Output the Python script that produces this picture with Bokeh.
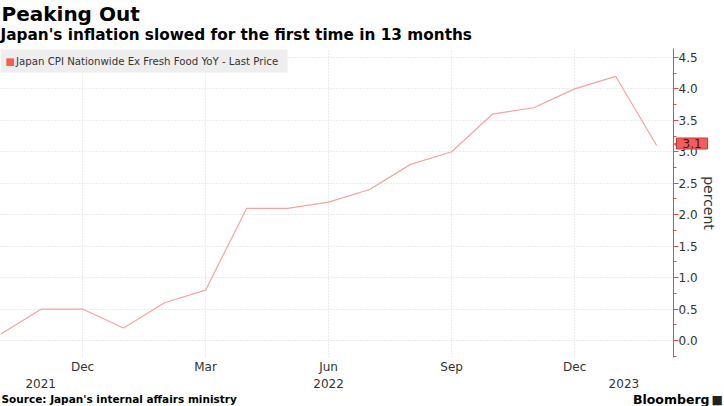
from bokeh.plotting import figure
from bokeh.models import (Range1d, FixedTicker, NumeralTickFormatter, Label,
                          BoxAnnotation)
from bokeh.embed import file_html
from bokeh.resources import INLINE

# ---------------- data ----------------
months = ["Oct 2021", "Nov 2021", "Dec 2021", "Jan 2022", "Feb 2022", "Mar 2022",
          "Apr 2022", "May 2022", "Jun 2022", "Jul 2022", "Aug 2022", "Sep 2022",
          "Oct 2022", "Nov 2022", "Dec 2022", "Jan 2023", "Feb 2023"]
cpi = [0.1, 0.5, 0.5, 0.2, 0.6, 0.8, 2.1, 2.1, 2.2, 2.4, 2.8, 3.0,
       3.6, 3.7, 4.0, 4.2, 3.1]
month_idx = list(range(len(months)))
quarter_names = ["Dec", "Mar", "Jun", "Sep"]
quarter_ticks = [i for i, m in enumerate(months) if m.split()[0] in quarter_names]
quarter_labels = [months[i].split()[0] for i in quarter_ticks]
year_labels = ["2021", "2022", "2023"]
year_pos = [0.98, 8.0, 15.2]
y_ticks = [0.0, 0.5, 1.0, 1.5, 2.0, 2.5, 3.0, 3.5, 4.0, 4.5]
y_minor = [-0.25, 0.25, 0.75, 1.25, 1.75, 2.25, 2.75, 3.25, 3.75, 4.25]

title = "Peaking Out"
subtitle = "Japan's inflation slowed for the first time in 13 months"
series_name = "Japan CPI Nationwide Ex Fresh Food YoY - Last Price"
source = "Source: Japan's internal affairs ministry"
brand = "Bloomberg"

# ---------------- layout ----------------
W, H = 724, 406
HIDDEN = 1500                     # off-screen side panel that holds outside texts
FRAME_L, FRAME_R, FRAME_T, FRAME_B = 0, 673, 48, 357
X0, X1 = 0.0, 16.41
Y0, Y1 = -0.27, 4.642

RED = "#e5474b"
LINE = "#f4a3a3"
TAG = "#f45d5d"
TXT = "#333333"
FONT = "DejaVu Sans"


def dx(px):
    return X0 + (px - FRAME_L) * (X1 - X0) / (FRAME_R - FRAME_L)


def dy(py):
    return Y1 - (py - FRAME_T) * (Y1 - Y0) / (FRAME_B - FRAME_T)


p = figure(width=W + HIDDEN, height=H, x_range=Range1d(X0, X1), y_range=Range1d(Y0, Y1),
           output_backend="svg", toolbar_location=None,
           x_axis_location="below", y_axis_location="right",
           min_border_left=HIDDEN + FRAME_L, min_border_right=W - FRAME_R,
           min_border_top=FRAME_T, min_border_bottom=H - FRAME_B,
           margin=(0, 0, 0, -HIDDEN))
p.outline_line_color = None
p.background_fill_color = "white"
p.border_fill_color = "white"

# x axis (months)
xa = p.xaxis[0]
xa.ticker = FixedTicker(ticks=quarter_ticks)
xa.major_label_overrides = {t: l for t, l in zip(quarter_ticks, quarter_labels)}
xa.axis_line_color = None
xa.major_tick_line_color = None
xa.minor_tick_line_color = None
xa.major_tick_out = 0
xa.major_tick_in = 0
xa.minor_tick_out = 0
xa.minor_tick_in = 0
xa.major_label_standoff = 2
xa.major_label_text_font = FONT
xa.major_label_text_font_size = "12px"
xa.major_label_text_color = TXT

# y axis
ya = p.yaxis[0]
ya.ticker = FixedTicker(ticks=y_ticks, minor_ticks=y_minor)
ya.formatter = NumeralTickFormatter(format="0.0")
ya.axis_line_color = RED
ya.major_tick_line_color = RED
ya.minor_tick_line_color = RED
ya.major_tick_in = 0
ya.major_tick_out = 5
ya.minor_tick_in = 0
ya.minor_tick_out = 3
ya.major_label_standoff = 0
ya.major_label_text_font = FONT
ya.major_label_text_font_size = "12px"
ya.major_label_text_color = TXT
ya.axis_label = "percent"
ya.axis_label_standoff = 0
ya.axis_label_text_font = FONT
ya.axis_label_text_font_style = "normal"
ya.axis_label_text_font_size = "14px"
ya.axis_label_text_color = TXT

p.xgrid[0].ticker = FixedTicker(ticks=quarter_ticks)
for g in (p.xgrid[0], p.ygrid[0]):
    g.grid_line_color = "#d6d6d6"
    g.grid_line_dash = "1 2"
    g.grid_line_width = 1

# series
p.line(month_idx, cpi, line_color=LINE, line_width=1.2)

# legend box (inside the frame)
p.add_layout(BoxAnnotation(left=dx(0), right=dx(287), top=dy(49), bottom=dy(72),
                           fill_color="#eeeeee", fill_alpha=1.0, line_color=None))


def txt(text, px, py, size, bold=False, color=TXT, align="left",
        place="center", **kw):
    lab = Label(x=dx(px), y=dy(py), text=text, text_font=FONT,
                text_font_size=size, text_font_style="bold" if bold else "normal",
                text_color=color, text_align=align, text_baseline="middle", **kw)
    if place == "center":
        p.add_layout(lab)
    else:
        p.add_layout(lab, place)
    return lab


txt("\u25A0", 5, 61, "10px", color=TAG)
txt(series_name, 15.5, 61, "10.2px")

# texts outside the frame live in the (off-screen) left panel
side = "left"
txt(title, 1, 13.5, "20px", bold=True, color="#000000", place=side)
txt(subtitle, 0, 34, "15.3px", bold=True, color="#000000", place=side)

for lbl, pos in zip(year_labels, year_pos):
    p.add_layout(Label(x=pos, y=dy(383), text=lbl, text_font=FONT,
                       text_font_size="12px", text_color=TXT,
                       text_align="center", text_baseline="middle"), side)

txt(source, 1, 398, "10.5px", bold=True, color="#000000", place=side)
txt(brand, 709, 398.5, "12.5px", bold=True, color="#000000", align="right", place=side)
txt("\u25A0", 711, 399, "12px", color="#222222", place=side)

# last value tag
last = cpi[-1]
p.add_layout(Label(x=X1, y=last, x_offset=-1, y_offset=2, text="\u25C0", text_font=FONT,
                   text_font_size="11px", text_color=TAG,
                   text_align="left", text_baseline="middle"), side)
tag_kw = dict(x=X1, y=last, x_offset=3, y_offset=2, text=f"{last:.1f}", text_font=FONT,
              text_font_size="12px", text_color="#5a0a0a",
              text_align="left", text_baseline="middle",
              background_fill_color=TAG, border_line_color="#c03a3a")
try:
    tag = Label(padding=dict(left=6, right=6, top=1, bottom=1), **tag_kw)
except Exception:
    tag = Label(padding=3, **tag_kw)
p.add_layout(tag, side)

open("out.html", "w").write(file_html(p, INLINE))
